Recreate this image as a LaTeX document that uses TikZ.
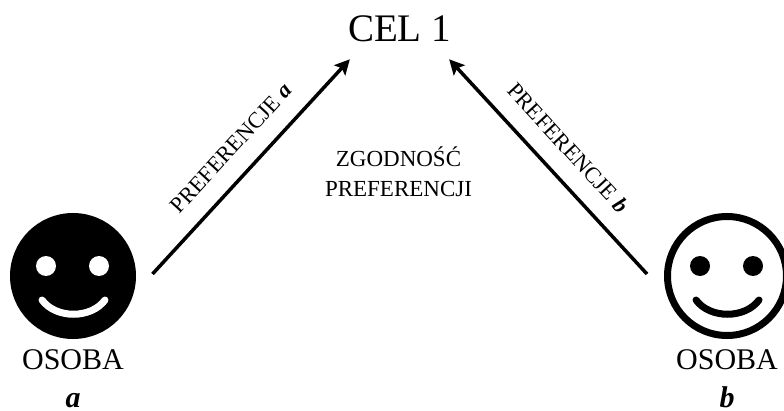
\documentclass[tikz,border=0pt]{standalone}
\usepackage{fontspec}
\setmainfont{Liberation Serif}
\usepackage{xcolor}
\usepackage{tikz}
\usetikzlibrary{arrows.meta, positioning}
\tikzset{
  goalnode/.style={inner sep=0pt, font=\fontsize{39}{39}\selectfont},
  facenode/.style={draw, circle, line width=7pt, minimum size=119pt, inner sep=0pt},
  eyenode/.style={circle, minimum size=20pt, inner sep=0pt},
  personnode/.style={inner sep=0pt, align=center, font=\fontsize{30}{38}\selectfont},
  labelnode/.style={inner sep=0pt, align=center, font=\fontsize{23}{30}\selectfont},
  sidelabel/.style={labelnode, font=\fontsize{22.5}{30}\selectfont},
  arrow/.style={-{Stealth[length=15pt,width=15pt,inset=3pt]}, line width=3.5pt},
  mouth/.style={line width=7pt, line cap=round}
}

\begin{document}
\begin{tikzpicture}[x=1pt, y=1pt]
\useasboundingbox (0,0) rectangle (784,410);

% Nodes
\node[goalnode] (G) at (399.5,381) {CEL 1};
\node[facenode, fill=black] (A) at (73,134) {};
\node[facenode, fill=white] (B) at (727,134) {};
\node[labelnode] (M) at (398.5,238) {ZGODNOŚĆ\\PREFERENCJI};
\node[personnode, below=10pt of A] (PA) {OSOBA\\\textbf{\textit{a}}};
\node[personnode, below=10pt of B] (PB) {OSOBA\\\textbf{\textit{b}}};

% Eyes
\node[eyenode, fill=white] (AE1) at ([xshift=-27pt,yshift=10pt]A.center) {};
\node[eyenode, fill=white] (AE2) at ([xshift=26pt,yshift=10pt]A.center) {};
\node[eyenode, fill=black] (BE1) at ([xshift=-27pt,yshift=10pt]B.center) {};
\node[eyenode, fill=black] (BE2) at ([xshift=26pt,yshift=10pt]B.center) {};

% Mouths
\draw[mouth, white] ([xshift=-31pt,yshift=-24pt]A.center) .. controls +(14,-19) and +(-14,-19) .. ([xshift=32pt,yshift=-24pt]A.center);
\draw[mouth, black] ([xshift=-31pt,yshift=-24pt]B.center) .. controls +(14,-19) and +(-14,-19) .. ([xshift=32pt,yshift=-24pt]B.center);

% Connections
\draw[arrow] ([xshift=16.5pt,yshift=2pt]A.east) -- node[sidelabel, midway, above=18pt, sloped] {PREFERENCJE \textbf{\textit{a}}} ([xshift=2pt,yshift=-17pt]G.south west);
\draw[arrow] ([xshift=-17pt,yshift=2pt]B.west) -- node[sidelabel, midway, above=18pt, sloped] {PREFERENCJE \textbf{\textit{b}}} ([xshift=-2pt,yshift=-17pt]G.south east);

\end{tikzpicture}
\end{document}
